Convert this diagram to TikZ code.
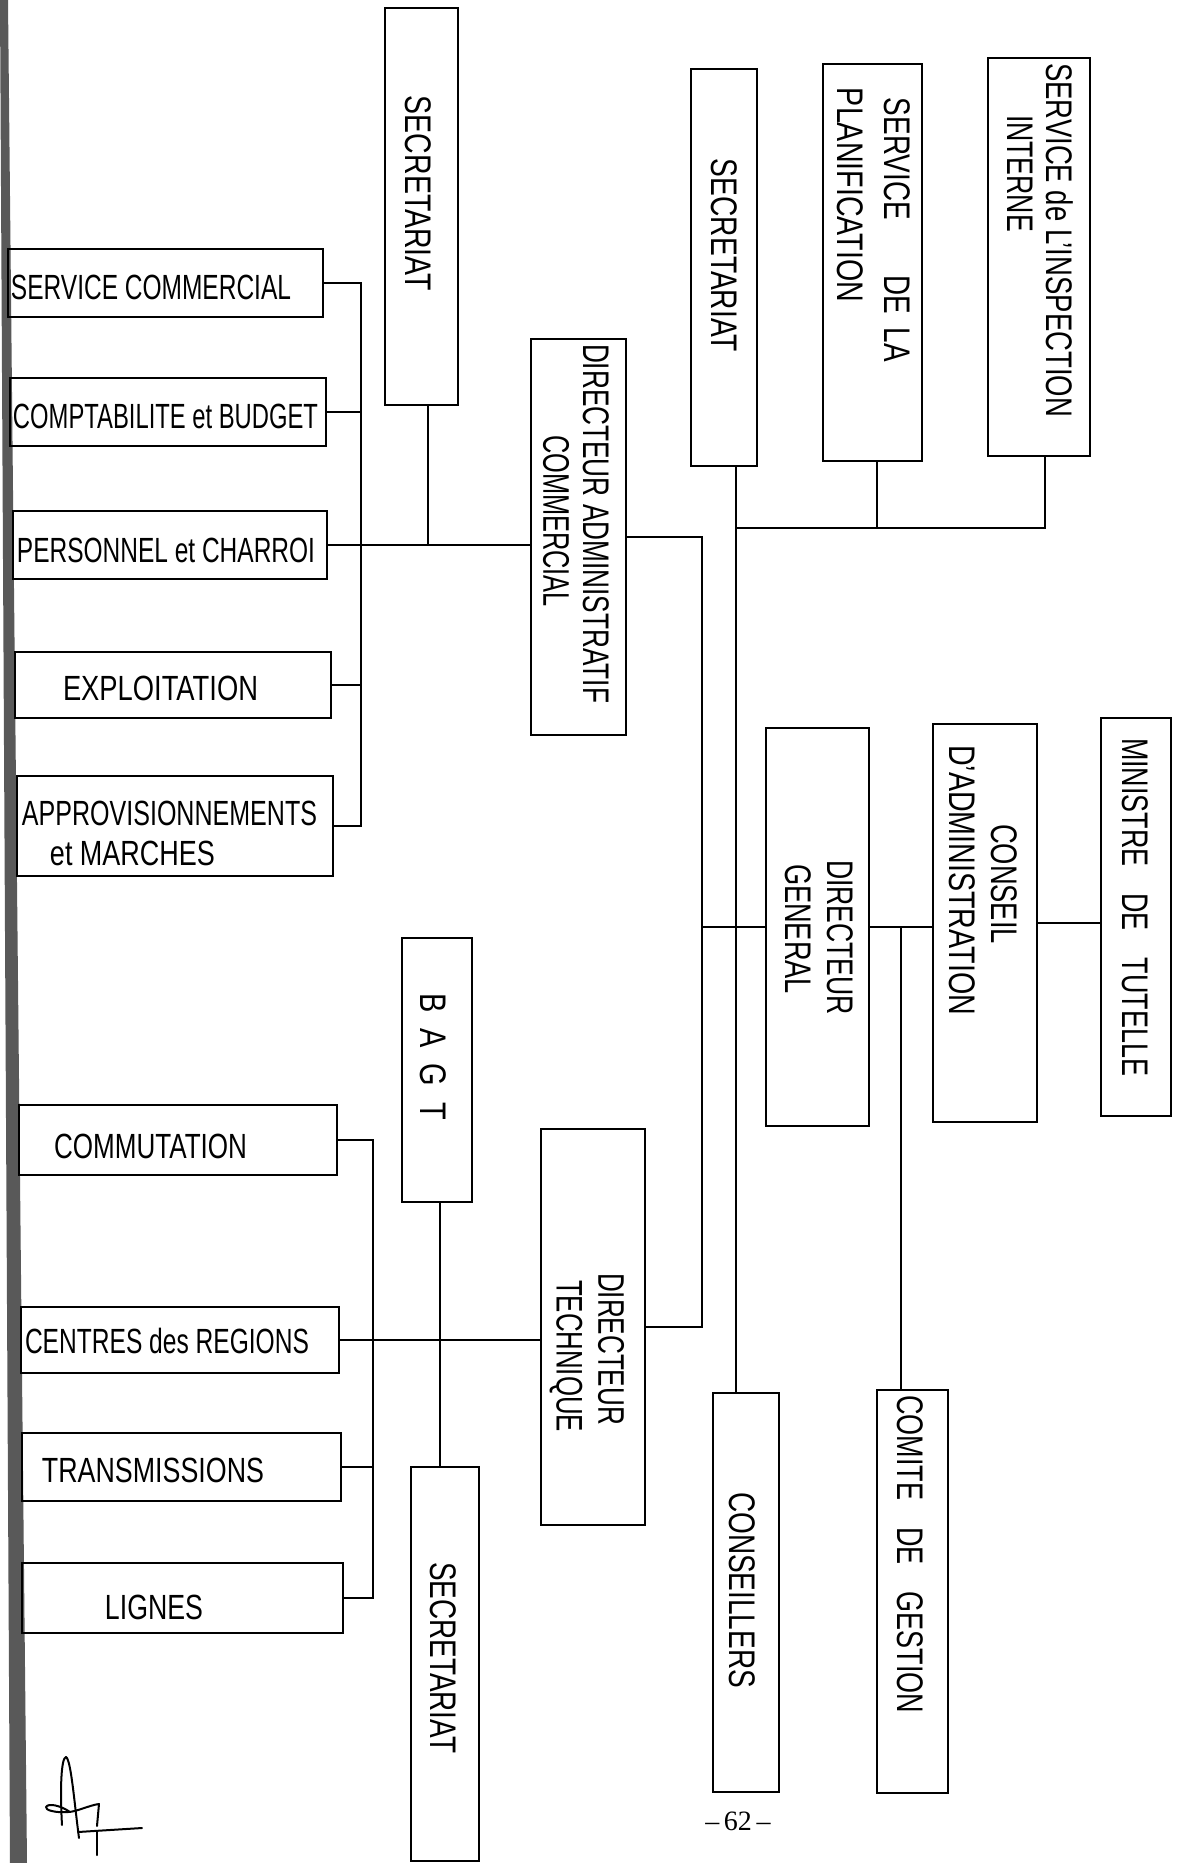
\documentclass[tikz,border=0pt]{standalone}
\usepackage{fontspec}
\usepackage{graphicx}
\setmainfont{Liberation Sans}
\newfontfamily\pagenumfont{Liberation Serif}
\newcommand\fw[2]{\resizebox{#1pt}{\height}{#2}}
\begin{document}
\begin{tikzpicture}[x=1pt,y=-1pt,
  box/.style={draw, line width=2.2pt, inner sep=0pt},
  conn/.style={line width=2pt},
  hlab/.style={inner sep=0pt, font=\fontsize{35}{38}\selectfont},
  vlab/.style={inner sep=0pt, rotate=-90, font=\fontsize{37}{40}\selectfont}]
\useasboundingbox (0,0) rectangle (1176,1863);
% scanned left edge
\fill[black!65] (0,0) -- (8,0) -- (27,1863) -- (10,1863) -- cycle;

% ---------- boxes ----------
\node[box, minimum width=73pt, minimum height=397pt] (secL) at (421.5,206.5) {};
\node[box, minimum width=66pt, minimum height=397pt] (secM) at (724,267.5) {};
\node[box, minimum width=99pt, minimum height=397pt] (plan) at (872.5,262.5) {};
\node[box, minimum width=102pt, minimum height=398pt] (insp) at (1039,257) {};
\node[box, minimum width=95pt, minimum height=396pt] (dac) at (578.5,537) {};
\node[box, minimum width=103pt, minimum height=398pt] (dg) at (817.5,927) {};
\node[box, minimum width=104pt, minimum height=398pt] (ca) at (985,923) {};
\node[box, minimum width=70pt, minimum height=398pt] (mt) at (1136,917) {};
\node[box, minimum width=70pt, minimum height=264pt] (bagt) at (437,1070) {};
\node[box, minimum width=104pt, minimum height=396pt] (dt) at (593,1327) {};
\node[box, minimum width=66pt, minimum height=399pt] (cons) at (746,1592.5) {};
\node[box, minimum width=71pt, minimum height=403pt] (com) at (912.5,1591.5) {};
\node[box, minimum width=68pt, minimum height=394pt] (secB) at (445,1664) {};

\node[box, minimum width=315pt, minimum height=68pt] (scom) at (165.5,283) {};
\node[box, minimum width=316pt, minimum height=68pt] (comp) at (168,412) {};
\node[box, minimum width=314pt, minimum height=68pt] (pers) at (170,545) {};
\node[box, minimum width=316pt, minimum height=66pt] (expl) at (173,685) {};
\node[box, minimum width=316pt, minimum height=100pt] (appro) at (175,826) {};
\node[box, minimum width=318pt, minimum height=70pt] (comm) at (178,1140) {};
\node[box, minimum width=318pt, minimum height=66pt] (cent) at (180,1340) {};
\node[box, minimum width=319pt, minimum height=68pt] (tran) at (181.5,1467) {};
\node[box, minimum width=321pt, minimum height=70pt] (lign) at (182.5,1598) {};

% ---------- labels ----------
\node[hlab] (scomt) at (151,287) {\fw{280}{SERVICE COMMERCIAL}};
\node[hlab] (compt) at (165.5,416) {\fw{305}{COMPTABILITE et BUDGET}};
\node[hlab] (perst) at (166,550) {\fw{298}{PERSONNEL et CHARROI}};
\node[hlab] (explt) at (160.5,688) {\fw{195}{EXPLOITATION}};
\node[hlab] (appt1) at (169.5,813) {\fw{295}{APPROVISIONNEMENTS}};
\node[hlab] (appt2) at (132.5,853) {\fw{165}{et MARCHES}};
\node[hlab] (commt) at (150.5,1146) {\fw{193}{COMMUTATION}};
\node[hlab] (centt) at (167,1341) {\fw{284}{CENTRES des REGIONS}};
\node[hlab] (trant) at (153,1470) {\fw{222}{TRANSMISSIONS}};
\node[hlab] (lignt) at (154,1607) {\fw{98}{LIGNES}};

\node[vlab] (secLt) at (418,193.5) {\fw{195}{SECRETARIAT}};
\node[vlab] (secMt) at (724,255.5) {\fw{193}{SECRETARIAT}};
\node[vlab] (plant1) at (897,230) {\fw{264}{SERVICE\qquad DE\enspace LA}};
\node[vlab] (plant2) at (850,195) {\fw{214}{PLANIFICATION}};
\node[vlab] (inspt1) at (1060,240) {\fw{354}{SERVICE de L'INSPECTION}};
\node[vlab] (inspt2) at (1020,173.5) {\fw{117}{INTERNE}};
\node[vlab] (dact1) at (596,523.5) {\fw{359}{DIRECTEUR ADMINISTRATIF}};
\node[vlab] (dact2) at (556,521) {\fw{172}{COMMERCIAL}};
\node[vlab] (dgt1) at (840,937.5) {\fw{155}{DIRECTEUR}};
\node[vlab] (dgt2) at (798,929) {\fw{130}{GENERAL}};
\node[vlab] (cat1) at (1004,884) {\fw{120}{CONSEIL}};
\node[vlab] (cat2) at (962,880) {\fw{270}{D'ADMINISTRATION}};
\node[vlab] (mtt) at (1135,907) {\fw{338}{MINISTRE\quad DE\quad TUTELLE}};
\node[vlab] (bagtt) at (433,1056.5) {\fw{127}{B\ \ A\ \ G\ \ T}};
\node[vlab] (dtt1) at (611,1349) {\fw{152}{DIRECTEUR}};
\node[vlab] (dtt2) at (566,1356) {\fw{152}{TECHNIQUE}};
\node[vlab] (const) at (742,1590) {\fw{196}{CONSEILLERS}};
\node[vlab] (comt) at (910,1554) {\fw{318}{COMITE\quad DE\quad GESTION}};
\node[vlab] (secBt) at (443,1657.5) {\fw{191}{SECRETARIAT}};

\node[inner sep=0pt, font=\pagenumfont\fontsize{28}{30}\selectfont] (pnum) at (738,1821) {\textendash\,62\,\textendash};

% ---------- connector guides ----------
\coordinate (busA) at (361,0);
\coordinate (sLx) at (428,0);
\coordinate (busB) at (373,0);
\coordinate (bx) at (440,0);
\coordinate (t1) at (702,0);
\coordinate (t2) at (736,0);
\coordinate (hy) at (0,528);
\coordinate (px) at (877,0);
\coordinate (ix) at (1045,0);
\coordinate (cgx) at (901,0);

% administrative branch
\draw[conn] (scom.east) -- (scom.east -| busA) -- (appro.east -| busA) -- (appro.east);
\draw[conn] (comp.east) -- (comp.east -| busA);
\draw[conn] (expl.east) -- (expl.east -| busA);
\draw[conn] (pers.east) -- (pers.east -| dac.west);
\draw[conn] (secL.south -| sLx) -- (pers.east -| sLx);

% technical branch
\draw[conn] (comm.east) -- (comm.east -| busB) -- (lign.east -| busB) -- (lign.east);
\draw[conn] (tran.east) -- (tran.east -| busB);
\draw[conn] (cent.east) -- (cent.east -| dt.west);
\draw[conn] (bagt.south -| bx) -- (secB.north -| bx);

% main trunks
\draw[conn] (dac.east) -- (dac.east -| t1) -- (dt.east -| t1) -- (dt.east);
\draw[conn] (dg.west -| t1) -- (dg.west);
\draw[conn] (secM.south -| t2) -- (cons.north -| t2);
\draw[conn] (hy -| t2) -- (hy -| ix) -- (insp.south -| ix);
\draw[conn] (plan.south -| px) -- (hy -| px);

% right side
\draw[conn] (dg.east) -- (dg.east -| ca.west);
\draw[conn] (ca.east) -- (ca.east -| mt.west);
\draw[conn] (dg.east -| cgx) -- (com.north -| cgx);

% signature
\begin{scope}[line width=2pt, line cap=round, line join=round]
\draw (62,1825) .. controls (60,1790) and (61,1758) .. (66,1757) .. controls (71,1760) and (74,1800) .. (79,1838);
\draw (97,1826) -- (99,1804) .. controls (90,1805) and (76,1812) .. (68,1812) .. controls (55,1813) and (45,1810) .. (46,1807) .. controls (48,1803) and (60,1805) .. (70,1812);
\draw (78,1832) -- (142,1828);
\draw (97,1832) -- (97,1855);
\end{scope}
\end{tikzpicture}
\end{document}
